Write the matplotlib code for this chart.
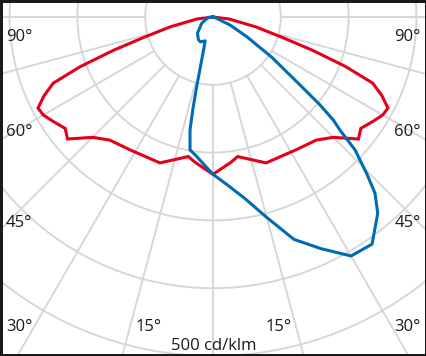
import numpy as np
import matplotlib
matplotlib.use("Agg")
import matplotlib.pyplot as plt
from matplotlib.patches import Circle

# -------------------------------
# Data (cd/klm vs gamma angle, 0 = nadir, + = right side)
# -------------------------------
# red plane (symmetric, given for 0..90 deg)
red_gamma = [0, 7, 10, 20, 32, 40, 45, 50, 53, 57, 60, 62.5, 65, 67.5, 69.5, 71.5, 73.5, 77, 83, 90]
red_cd = [232, 216, 209, 229, 231, 237, 251, 280, 273, 282, 289, 291, 275, 255, 209, 155, 108, 65, 24, 0]

# blue plane (asymmetric, -90..90 deg)
blue_gamma = [-90, -86, -61, -44, -32.5, -26.5, -18, -14.7, -13.2, -12.3, -11.5, -9.8, -7.4,
              0, 5, 10, 15, 20, 25, 30, 35, 40, 42.6, 44.5, 46.9, 48.3, 49.4, 50.6, 52,
              55.6, 57, 59.7, 64.8, 70, 90]
blue_cd = [0, 7, 19, 33, 40, 41, 37, 66, 106, 140, 170, 199, 205,
           232, 249, 272, 306, 349, 377, 407, 409, 378, 353, 323, 287, 251, 234, 204, 163,
           105, 82, 58, 28, 5, 0]

rings = [100, 200, 300, 400, 500]
spokes = list(range(-90, 91, 15))
scale_label = "500 cd/klm"

# -------------------------------
# Figure
# -------------------------------
W, H = 427, 356
cx, cy = 213, 17          # pole position in pixels (from top-left)
k = 100 / 67.8            # cd/klm per pixel

fig = plt.figure(figsize=(W / 100, H / 100), dpi=100)
ax = fig.add_axes([0, 0, 1, 1])
ax.set_xlim(-cx * k, (W - cx) * k)
ax.set_ylim(-(H - cy) * k, cy * k)
ax.set_xticks([])
ax.set_yticks([])
for sp in ax.spines.values():
    sp.set_color('#1a1a1a')
    sp.set_linewidth(3.6)

grid_c = '#d6d6d6'
for r in rings:
    ax.add_patch(Circle((0, 0), r, fill=False, ec=grid_c, lw=1.35, zorder=1))
for a in spokes:
    t = np.radians(a)
    ax.plot([100 * np.sin(t), 800 * np.sin(t)], [-100 * np.cos(t), -800 * np.cos(t)],
            color=grid_c, lw=1.35, zorder=1)

def to_xy(gamma, cd):
    t = np.radians(np.asarray(gamma, float))
    cd = np.asarray(cd, float)
    return cd * np.sin(t), -cd * np.cos(t)

rg = np.concatenate([-np.array(red_gamma[::-1]), np.array(red_gamma[1:])])
rc = np.concatenate([np.array(red_cd[::-1]), np.array(red_cd[1:])])
x, y = to_xy(rg, rc)
ax.plot(x, y, color='#e2001a', lw=2.2, solid_joinstyle='miter', zorder=3)

x, y = to_xy(blue_gamma, blue_cd)
ax.plot(x, y, color='#006bb6', lw=2.2, solid_joinstyle='round', zorder=4)

# labels
fs = 12
fam = ['Open Sans', 'DejaVu Sans']
tc = '#1a1a1a'
def ptext(px, py, s, ha):
    fig.text(px / W, 1 - py / H, s, ha=ha, va='baseline', fontsize=fs, family=fam, color=tc)

for lab, yb in [("90°", 41), ("60°", 136.5), ("45°", 227), ("30°", 331)]:
    ptext(6, yb, lab, 'left')
    ptext(421, yb, lab, 'right')
ptext(136, 331, "15°", 'left')
ptext(292, 331, "15°", 'right')
ptext(214, 350, scale_label, 'center')

fig.savefig("out.png", dpi=100)
